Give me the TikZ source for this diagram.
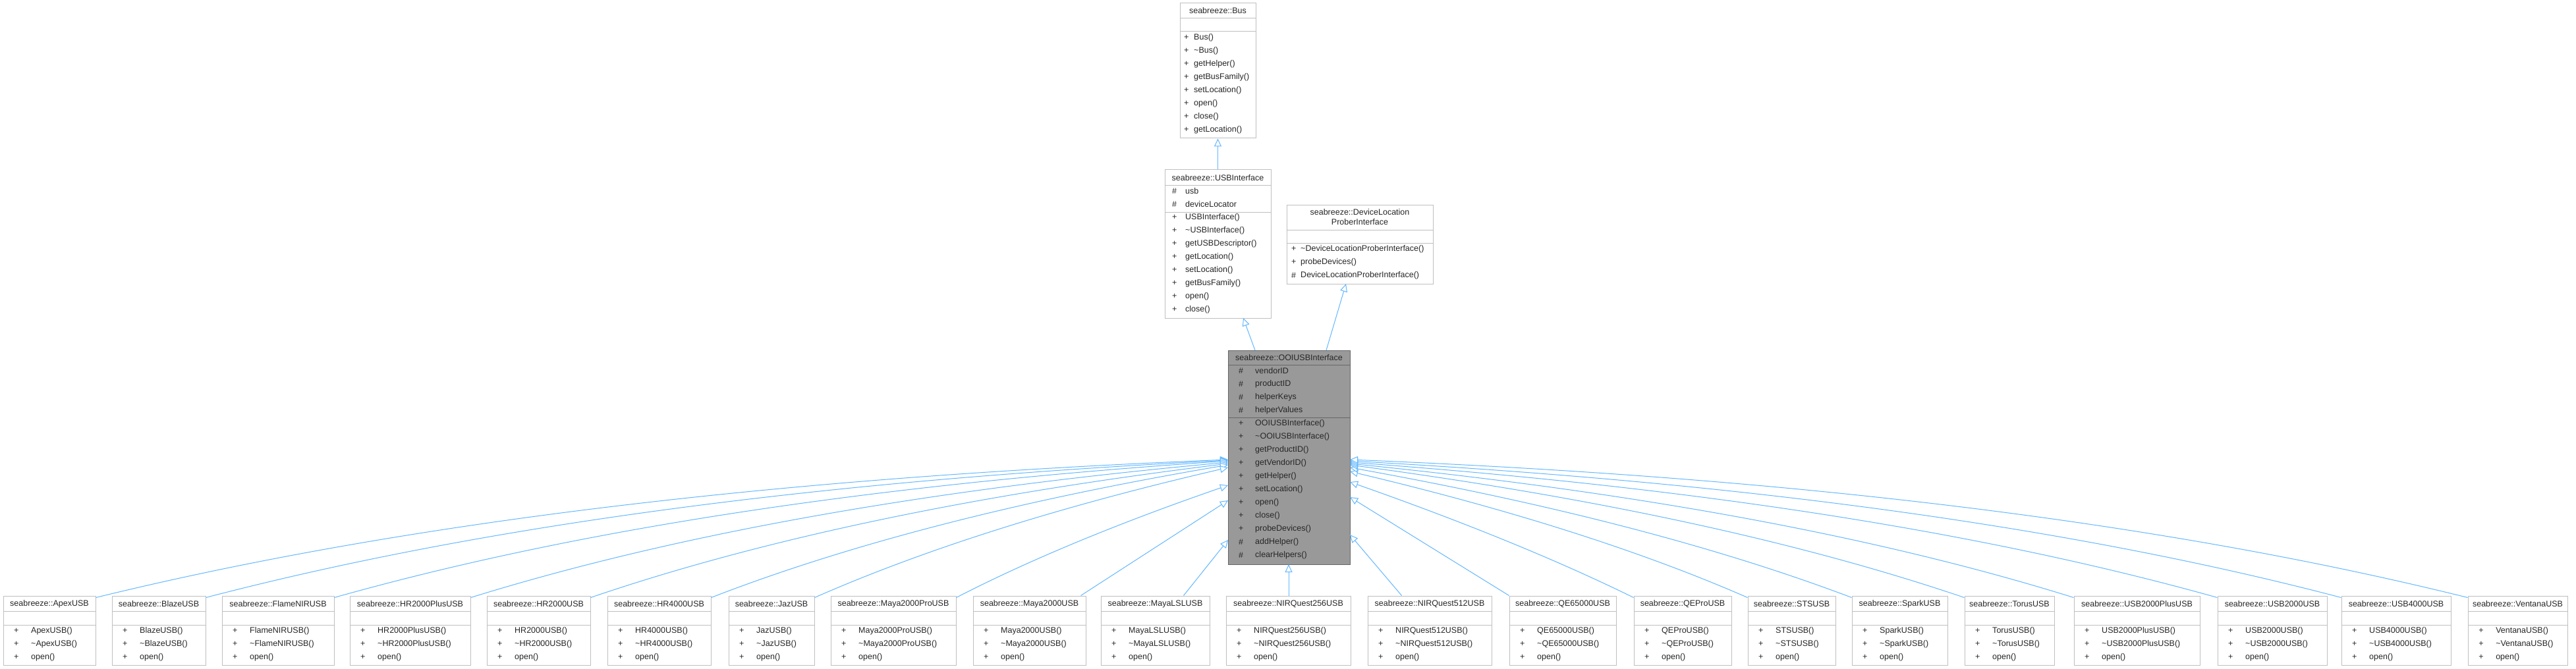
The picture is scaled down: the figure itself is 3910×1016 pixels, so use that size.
\documentclass[tikz,border=0pt]{standalone}
\usepackage{fontspec}
\setmainfont{Liberation Sans}
\usetikzlibrary{arrows.meta,fit,calc}
\definecolor{boxline}{HTML}{BFBFBF}
\definecolor{edgec}{HTML}{63B8FF}
\definecolor{ooifill}{HTML}{999999}
\definecolor{ooiline}{HTML}{666666}
\begin{document}
\begin{tikzpicture}[x=1pt,y=-1pt,
  box/.style={draw=boxline,fill=white,inner sep=0pt,line width=1pt},
  sep/.style={draw=boxline,line width=1pt},
  txt/.style={inner sep=0pt,font=\fontsize{12.5}{15}\selectfont,text=black!85},
  lt/.style={txt,anchor=west},
  inh/.style={draw=edgec,line width=1pt,-{Triangle[open,length=12pt,width=11pt,fill=white]}}]
\useasboundingbox[fill=white] (0,0) rectangle (3910,1016);

% Bus
\node[box,fit={(1791,5)(1906,210)}] (bus) {};
\draw[sep] (1791,28) -- (1906,28) (1791,48) -- (1906,48);
\node[txt] (busT) at (1848.5,16) {seabreeze::Bus};
\foreach \t [count=\i from 0] in {Bus(),\textasciitilde Bus(),getHelper(),getBusFamily(),setLocation(),open(),close(),getLocation()}{
  \node[lt] (busS\i) at (1797,57+20*\i) {+};
  \node[lt] (busM\i) at (1812,57+20*\i) {\t};}

% USBInterface
\node[box,fit={(1768,258)(1929,483)}] (usbi) {};
\draw[sep] (1768,282) -- (1929,282) (1768,322) -- (1929,322);
\node[txt] (usbiT) at (1848.5,270) {seabreeze::USBInterface};
\foreach \t [count=\i from 0] in {usb,deviceLocator}{
  \node[lt] (usbiA\i) at (1779,290+20*\i) {\#};
  \node[lt] (usbiAt\i) at (1799,290+20*\i) {\t};}
\foreach \t [count=\i from 0] in {USBInterface(),\textasciitilde USBInterface(),getUSBDescriptor(),getLocation(),setLocation(),getBusFamily(),open(),close()}{
  \node[lt] (usbiS\i) at (1779,330+20*\i) {+};
  \node[lt] (usbiM\i) at (1799,330+20*\i) {\t};}

% DeviceLocationProberInterface
\node[box,fit={(1953,311)(2175,431)}] (dlpi) {};
\draw[sep] (1953,349) -- (2175,349) (1953,369) -- (2175,369);
\node[txt,align=center] (dlpiT) at (2064,330) {seabreeze::DeviceLocation\\ProberInterface};
\foreach \s/\t [count=\i from 0] in {+/\textasciitilde DeviceLocationProberInterface(),+/probeDevices(),\#/DeviceLocationProberInterface()}{
  \node[lt] (dlpiS\i) at (1960,378+20*\i) {\s};
  \node[lt] (dlpiM\i) at (1974,378+20*\i) {\t};}

% OOIUSBInterface
\node[draw=ooiline,fill=ooifill,line width=1pt,inner sep=0pt,fit={(1864,532)(2049,857)}] (ooi) {};
\draw[draw=ooiline,line width=1pt] (1864,554) -- (2049,554) (1864,634) -- (2049,634);
\node[txt] (ooiT) at (1956.5,543) {seabreeze::OOIUSBInterface};
\foreach \t [count=\i from 0] in {vendorID,productID,helperKeys,helperValues}{
  \node[lt] (ooiA\i) at (1880,563+20*\i) {\#};
  \node[lt] (ooiAt\i) at (1905,563+20*\i) {\t};}
\foreach \s/\t [count=\i from 0] in {+/OOIUSBInterface(),+/\textasciitilde OOIUSBInterface(),+/getProductID(),+/getVendorID(),+/getHelper(),+/setLocation(),+/open(),+/close(),+/probeDevices(),\#/addHelper(),\#/clearHelpers()}{
  \node[lt] (ooiS\i) at (1880,643+20*\i) {\s};
  \node[lt] (ooiM\i) at (1905,643+20*\i) {\t};}

% upper edges
\draw[inh] (usbi.north) -- (bus.south);
\coordinate (ooiTopA) at (1905,532);
\coordinate (usbiBot) at (1887,483);
\draw[inh] (ooiTopA) -- (usbiBot);
\coordinate (ooiTopB) at (2013,532);
\coordinate (dlpiBot) at (2043,431);
\draw[inh] (ooiTopB) -- (dlpiBot);

% child boxes
\foreach \id/\a/\b/\n in {apex/5/145/ApexUSB, blaze/170/312/BlazeUSB, flame/337/507/FlameNIRUSB,
  hrtp/531/714/HR2000PlusUSB, hrt/739/896/HR2000USB, hrf/922/1079/HR4000USB, jaz/1106/1236/JazUSB,
  mayap/1261/1451/Maya2000ProUSB, maya/1477/1648/Maya2000USB, mayals/1671/1836/MayaLSLUSB,
  nirA/1861/2050/NIRQuest256USB, nirB/2076/2264/NIRQuest512USB, qe/2291/2453/QE65000USB,
  qep/2480/2628/QEProUSB, sts/2653/2786/STSUSB, spark/2811/2956/SparkUSB, torus/2982/3118/TorusUSB,
  usbtp/3148/3339/USB2000PlusUSB, usbt/3366/3532/USB2000USB, usbf/3554/3720/USB4000USB,
  vent/3746/3897/VentanaUSB}{
  \node[box,fit={(\a,905)(\b,1010)}] (\id) {};
  \draw[sep] (\a,928) -- (\b,928) (\a,949) -- (\b,949);
  \node[txt] (\id T) at ({(\a+\b)/2},917) {seabreeze::\n};
  \node[lt] (\id S0) at (\a+16,958) {+};
  \node[lt] (\id S1) at (\a+16,978) {+};
  \node[lt] (\id S2) at (\a+16,998) {+};
  \node[lt] (\id M0) at (\a+42,958) {\n()};
  \node[lt] (\id M1) at (\a+42,978) {\textasciitilde\n()};
  \node[lt] (\id M2) at (\a+42,998) {open()};
}

% edges from left children
\foreach \id/\ty/\h in {apex/698/70, blaze/699/65, flame/700/58, hrtp/702/50, hrt/704/42, hrf/706/34, jaz/710/26, mayap/737/14}{
  \coordinate (t\id) at (1864,\ty);
  \coordinate (s\id) at ([yshift=-3pt]\id.north east);
  \draw[inh] (s\id) .. controls ($(s\id)!0.33!(t\id)+(0,-\h)$) and ($(s\id)!0.7!(t\id)+(0,-0.6*\h)$) .. (t\id);}
\coordinate (tmaya) at (1864,760);
\draw[inh] ([xshift=-8pt]maya.north east) -- (tmaya);
\coordinate (tmayals) at (1864,820);
\draw[inh] ([xshift=-40pt]mayals.north east) -- (tmayals);
\coordinate (tnirA) at (1956,857);
\draw[inh] (nirA.north -| tnirA) -- (tnirA);
% edges from right children
\coordinate (tnirB) at (2049,812);
\draw[inh] ([xshift=52pt]nirB.north west) -- (tnirB);
\coordinate (tqe) at (2049,755);
\draw[inh] (qe.north west) -- (tqe);
\foreach \id/\ty/\h in {qep/732/12, sts/716/24, spark/710/30, torus/706/38, usbtp/704/46, usbt/702/54, usbf/700/62, vent/698/70}{
  \coordinate (t\id) at (2049,\ty);
  \coordinate (s\id) at ([yshift=-3pt]\id.north west);
  \draw[inh] (s\id) .. controls ($(s\id)!0.33!(t\id)+(0,-\h)$) and ($(s\id)!0.7!(t\id)+(0,-0.6*\h)$) .. (t\id);}
\end{tikzpicture}
\end{document}
